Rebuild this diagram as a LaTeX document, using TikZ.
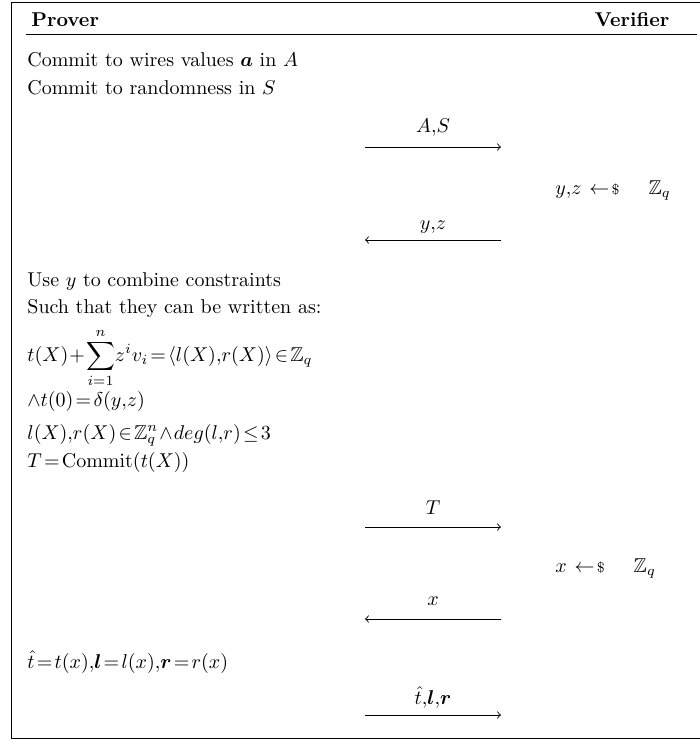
\documentclass[tikz,border=0pt]{standalone}
\usepackage{amsmath,amssymb,bm}
\thinmuskip=0mu
\medmuskip=1mu
\thickmuskip=2mu
\tikzset{
  txt/.style={inner sep=0pt, anchor=base west},
  lbl/.style={inner sep=0pt, anchor=base},
  msg/.style={line width=0.45pt},
  frame/.style={line width=0.5pt},
}
\newcommand{\smp}{\mskip5mu\leftarrow\!{\scriptstyle\$}\mskip26mu}
\begin{document}
\begin{tikzpicture}[x=0.5pt,y=-0.5pt]
\useasboundingbox (0,0) rectangle (700,740);
% frame
\coordinate (ftr) at (700,2);
\coordinate (ftl) at (11,2);
\coordinate (fbl) at (11,738);
\coordinate (fbr) at (700,738);
\draw[frame] (ftr) -- (ftl) -- (fbl) -- (fbr);
% header
\node[txt] (prover) at (31,26) {\textbf{Prover}};
\node[lbl] (verifier) at (632,26) {\textbf{Verifier}};
\coordinate (rl) at (26,34);
\coordinate (rr) at (697,34);
\draw[line width=0.5pt] (rl) -- (rr);
% prover lines
\node[txt] (l1) at (27,66) {Commit to wires values $\bm{a}$ in $A$};
\node[txt] (l2) at (27,94) {Commit to randomness in $S$};
% message 1
\node[lbl] (m1) at (433,132) {$A,S$};
\coordinate (a1s) at (365,147);
\coordinate (a1e) at (501,147);
\draw[msg,->] (a1s) -- (a1e);
% sample 1
\node[txt] (s1) at (555,194) {$y,z\smp\mathbb{Z}_q$};
% message 2
\node[lbl] (m2) at (433,229) {$y,z$};
\coordinate (a2s) at (501,240);
\coordinate (a2e) at (365,240);
\draw[msg,->] (a2s) -- (a2e);
% prover lines
\node[txt] (l3) at (27,286) {Use $y$ to combine constraints};
\node[txt] (l4) at (27,313) {Such that they can be written as:};
\node[inner sep=0pt, anchor=west] (l5) at (27,358) {$\displaystyle t(X)+\sum_{i=1}^{n}z^i v_i=\langle l(X),r(X)\rangle\in\mathbb{Z}_q$};
\node[txt] (l6) at (27,406) {$\wedge t(0)=\delta(y,z)$};
\node[txt] (l7) at (27,439) {$l(X),r(X)\in\mathbb{Z}_q^n\wedge deg(l,r)\le 3$};
\node[txt] (l8) at (27,467) {$T=\mathrm{Commit}(t(X))$};
% message 3
\node[lbl] (m3) at (433,514) {$T$};
\coordinate (a3s) at (365,527);
\coordinate (a3e) at (501,527);
\draw[msg,->] (a3s) -- (a3e);
% sample 2
\node[txt] (s2) at (555,572) {$x\smp\mathbb{Z}_q$};
% message 4
\node[lbl] (m4) at (433,605) {$x$};
\coordinate (a4s) at (501,619);
\coordinate (a4e) at (365,619);
\draw[msg,->] (a4s) -- (a4e);
% prover line
\node[txt] (l9) at (27,668) {$\hat{t}=t(x),\bm{l}=l(x),\bm{r}=r(x)$};
% message 5
\node[lbl] (m5) at (433,704) {$\hat{t},\bm{l},\bm{r}$};
\coordinate (a5s) at (365,715);
\coordinate (a5e) at (501,715);
\draw[msg,->] (a5s) -- (a5e);
\end{tikzpicture}
\end{document}
